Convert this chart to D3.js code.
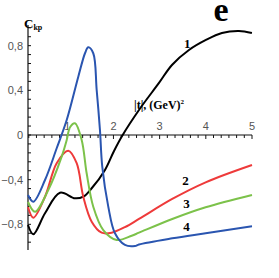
<!DOCTYPE html>
<html>
<head>
<meta charset="utf-8">
<script src="https://cdn.jsdelivr.net/npm/d3@7"></script>
<style>
  body { margin: 0; background: #fff; }
  svg { display: block; }
</style>
</head>
<body>
<div id="chart"></div>
<script>
// data: |t| (GeV^2) vs C_kp
const curve1 = [[0.15,-0.806],[0.265,-0.889],[0.518,-0.701],[0.843,-0.517],[1.167,-0.567],[1.347,-0.552],[1.529,-0.477],[1.817,-0.313],[2.01,-0.145],[2.2,0],[2.553,0.224],[2.986,0.466],[3.267,0.627],[3.635,0.761],[4.003,0.851],[4.349,0.913],[4.717,0.931],[4.998,0.913]];
const curve2 = [[0.15,-0.645],[0.265,-0.741],[0.518,-0.553],[0.771,-0.253],[1.022,-0.141],[1.204,-0.253],[1.347,-0.553],[1.529,-0.776],[1.745,-0.875],[1.962,-0.875],[2.249,-0.825],[2.553,-0.752],[3.273,-0.573],[3.996,-0.424],[5.0,-0.269]];
const curve3 = [[0.15,-0.600],[0.301,-0.687],[0.589,-0.493],[0.879,-0.194],[0.988,-0.045],[1.06,0.07],[1.167,0.105],[1.312,-0.045],[1.42,-0.343],[1.563,-0.642],[1.780,-0.851],[2.070,-0.940],[2.395,-0.902],[2.553,-0.875],[3.273,-0.752],[3.996,-0.647],[5.0,-0.537]];
const curve4 = [[0.15,-0.537],[0.265,-0.597],[0.518,-0.403],[0.771,-0.119],[0.988,0.134],[1.239,0.522],[1.384,0.732],[1.455,0.785],[1.563,0.732],[1.637,0.403],[1.708,0.045],[1.758,-0.284],[1.888,-0.642],[2.033,-0.880],[2.249,-0.985],[2.466,-0.994],[2.553,-0.980],[3.273,-0.925],[3.996,-0.880],[5.0,-0.818]];
const curveNames = ["1", "2", "3", "4"];
const xTickValues = [1, 2, 3, 4, 5];
const yTickValues = [0.8, 0.4, 0, -0.4, -0.8];

const width = 279, height = 278;
const svg = d3.select("#chart").append("svg")
  .attr("width", width).attr("height", height);

const x = d3.scaleLinear().domain([0.15, 5]).range([28, 252]);
const y = d3.scaleLinear().domain([-1.03, 0.985]).range([250, 25]);

// axes
const axisColor = "#111";
svg.append("line").attr("x1", x(0.15)).attr("x2", x(0.15))
  .attr("y1", y(0.985)).attr("y2", y(-1.03))
  .attr("stroke", axisColor).attr("stroke-width", 1.2);
svg.append("line").attr("x1", x(0.15)).attr("x2", x(5))
  .attr("y1", y(0)).attr("y2", y(0))
  .attr("stroke", axisColor).attr("stroke-width", 1.2);

// x minor ticks every 1/6
const xMinor = d3.range(1, 31).map(k => k / 6);
svg.selectAll(".xt").data(xMinor).enter().append("line")
  .attr("x1", d => x(d)).attr("x2", d => x(d))
  .attr("y1", y(0)).attr("y2", d => y(0) + (Math.abs(d - Math.round(d)) < 1e-6 ? 4 : 3))
  .attr("stroke", axisColor).attr("stroke-width", 1);

// y minor ticks every 0.08
const yMinor = d3.range(-12, 13).map(k => k * 0.08).filter(v => v > -1.03 && v < 0.985);
svg.selectAll(".yt").data(yMinor).enter().append("line")
  .attr("x1", x(0.15)).attr("x2", x(0.15) + 3)
  .attr("y1", d => y(d)).attr("y2", d => y(d))
  .attr("stroke", axisColor).attr("stroke-width", 1);

const fmt = v => (v === 0 ? "0" : d3.format(".1f")(v).replace(".", ","));
svg.selectAll(".yl").data(yTickValues).enter().append("text")
  .attr("x", 23).attr("y", d => y(d) + 4)
  .attr("text-anchor", "end")
  .attr("font-family", "Liberation Sans, Arial, sans-serif")
  .attr("font-size", 11).attr("fill", "#555")
  .text(fmt);

svg.selectAll(".xl").data(xTickValues).enter().append("text")
  .attr("x", d => x(d)).attr("y", y(0) - 5)
  .attr("text-anchor", "middle")
  .attr("font-family", "Liberation Sans, Arial, sans-serif")
  .attr("font-size", 11).attr("fill", "#555")
  .text(d => d);

// curves
const line = d3.line().x(d => x(d[0])).y(d => y(d[1])).curve(d3.curveCatmullRom.alpha(0.5));
const series = [
  { data: curve1, color: "#000000" },
  { data: curve2, color: "#ee3a3a" },
  { data: curve3, color: "#7cc24a" },
  { data: curve4, color: "#2a55b0" }
];
svg.selectAll(".curve").data(series).enter().append("path")
  .attr("d", d => line(d.data))
  .attr("fill", "none")
  .attr("stroke", d => d.color)
  .attr("stroke-width", 2);

// curve labels
const serif = "Liberation Serif, Times New Roman, serif";
const labelPos = [[3.6, 0.78], [3.56, -0.45], [3.58, -0.655], [3.58, -0.86]];
svg.selectAll(".cl").data(curveNames).enter().append("text")
  .attr("x", (d, i) => x(labelPos[i][0])).attr("y", (d, i) => y(labelPos[i][1]))
  .attr("text-anchor", "middle")
  .attr("font-family", serif).attr("font-weight", "bold").attr("font-size", 13)
  .text(d => d);

// y axis title
const yt = svg.append("text").attr("x", 24).attr("y", 28)
  .attr("font-family", serif).attr("font-weight", "bold").attr("font-size", 13);
yt.append("tspan").text("C");
yt.append("tspan").attr("font-size", 8).attr("dy", 2).text("kp");

// x axis title
const xtl = svg.append("text").attr("x", 134).attr("y", 109)
  .attr("font-family", serif).attr("font-weight", "bold").attr("font-size", 12);
xtl.append("tspan").text("|t|,  (GeV)");
xtl.append("tspan").attr("font-size", 7).attr("dy", -5).text("2");

// panel letter
svg.append("text").attr("x", 221).attr("y", 21)
  .attr("text-anchor", "middle")
  .attr("font-family", serif).attr("font-weight", "bold").attr("font-size", 34)
  .text("e");
</script>
</body>
</html>
